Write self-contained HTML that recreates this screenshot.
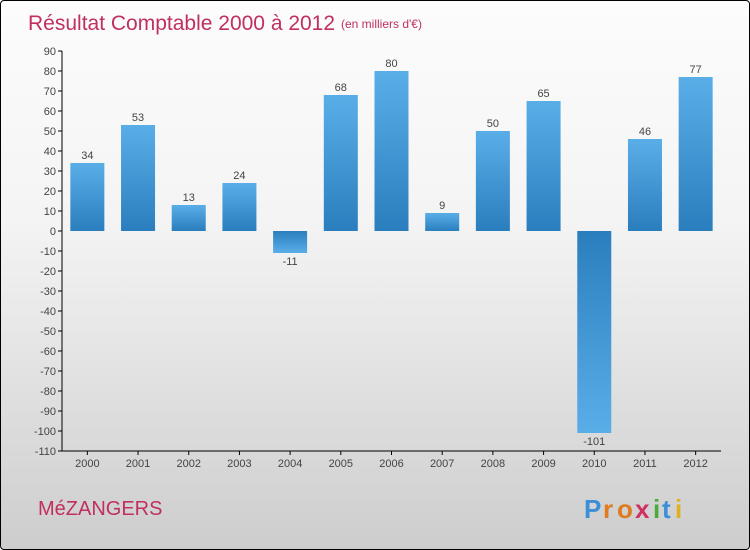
<!DOCTYPE html>
<html><head><meta charset="utf-8"><style>
body{margin:0;width:750px;height:550px;overflow:hidden}
#c{position:absolute;left:0;top:0;width:748px;height:548px;border:1px solid #000;border-radius:4px;background:linear-gradient(#fcfcfc,#f4f4f4 40%,#cdcdcd);overflow:hidden}
text{font-family:"Liberation Sans",sans-serif}
</style></head><body>
<div id="c">
<svg id="s" width="750" height="550">
<defs>
<linearGradient id="gp" x1="0" y1="0" x2="0" y2="1"><stop offset="0" stop-color="#5aaee8"/><stop offset="1" stop-color="#2a7ebd"/></linearGradient>
<linearGradient id="gn" x1="0" y1="0" x2="0" y2="1"><stop offset="0" stop-color="#2a7ebd"/><stop offset="1" stop-color="#5aaee8"/></linearGradient>
</defs>
<text x="27" y="29" font-size="21" fill="#c0305e">Résultat Comptable 2000 à 2012</text>
<text x="340" y="27" font-size="12" fill="#c0305e">(en milliers d'€)</text>
<text x="37" y="514" font-size="20" fill="#c0305e">MéZANGERS</text>
<g font-size="26" font-weight="bold">
<text x="583" y="517" fill="#3a8fd8">P</text><text x="602" y="517" fill="#e07b20">r</text><text x="616" y="517" fill="#e07b20">o</text><text x="634" y="517" fill="#d03060">x</text><text x="652" y="517" fill="#4caa3a">i</text><text x="661" y="517" fill="#3a8fd8">t</text><text x="674" y="517" fill="#e0b020">i</text>
</g>
</svg></div>
<script>
const years=["2000","2001","2002","2003","2004","2005","2006","2007","2008","2009","2010","2011","2012"];
const values=[34,53,13,24,-11,68,80,9,50,65,-101,46,77];
const ticks=[90,80,70,60,50,40,30,20,10,0,-10,-20,-30,-40,-50,-60,-70,-80,-90,-100,-110];
const s=document.getElementById('s');const NS='http://www.w3.org/2000/svg';
const x0=61,x1=720,bw=(x1-x0)/years.length;
const y=v=>230-(v*2);
function el(t,a){const e=document.createElementNS(NS,t);for(const k in a)e.setAttribute(k,a[k]);s.appendChild(e);return e;}
ticks.forEach(t=>{
const l=el('line',{x1:x0-4,x2:x0,y1:y(t),y2:y(t),stroke:'#000'});


const tx=el('text',{x:x0-6,y:y(t)+4,'font-size':11,'text-anchor':'end',fill:'#444'});tx.textContent=t;


});
years.forEach((yr,i)=>{
const cx=x0+bw*(i+0.5),v=values[i];
const top=Math.min(y(v),y(0)),h=Math.abs(y(v)-y(0));
const r=el('rect',{x:cx-17,y:top,width:34,height:h,fill:v>=0?'url(#gp)':'url(#gn)'});


const vl=el('text',{x:cx,y:v>=0?top-4:top+h+12,'font-size':11,'text-anchor':'middle',fill:'#444'});vl.textContent=v;


const tk=el('line',{x1:cx,x2:cx,y1:450,y2:454,stroke:'#000'});


const xl=el('text',{x:cx,y:466,'font-size':11,'text-anchor':'middle',fill:'#444'});xl.textContent=yr;


});
const ya=el('line',{x1:x0,x2:x0,y1:50,y2:450,stroke:'#000'});


const xa=el('line',{x1:x0,x2:x1,y1:450,y2:450,stroke:'#000'});


</script>
</body></html>
